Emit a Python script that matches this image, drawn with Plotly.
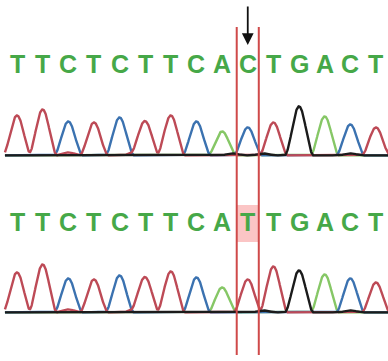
import numpy as np
import plotly.graph_objects as go

# Base calls for the reference and the variant read
seq_ref = "TTCTCTTCACTGACT"
seq_var = "TTCTCTTCATTGACT"

# Called-peak intensities (one per base)
peaks_ref = [40, 46, 34, 33, 38, 34, 40, 34, 24, 28, 33, 49, 39, 31, 28]
peaks_var = [40, 48, 34, 33, 37, 35, 41, 35, 25, 33, 46, 42, 38, 34, 30]

# Small secondary signals near the baseline: (dye, base position, intensity)
minor_ref = [("T", 2.0, 3), ("T", 4.6, 3), ("G", 8.4, 2), ("G", 9.6, 2), ("G", 13.0, 2)]
minor_var = [("T", 2.0, 3), ("T", 4.6, 3), ("G", 9.6, 2), ("G", 13.0, 2)]

variant_pos = 9  # index of the substituted base

dye_colors = {"A": "#86c766", "C": "#3b72b0", "G": "#1b1b1b", "T": "#bd4a56"}
letter_color = "#46a848"

W, H = 388, 361
HALF_WIDTH = 0.57  # half base width of a peak, in base units
scan = np.linspace(-0.47, 14.6, 1600)


def peak(center, height, w=HALF_WIDTH):
    d = np.abs(scan - center)
    return np.where(d < w, height * np.cos(np.pi * d / (2 * w)) ** 2, 0.0)


def dye_signal(seq, peaks, minor, dye):
    y = np.zeros_like(scan) + 0.6
    for i, (b, h) in enumerate(zip(seq, peaks)):
        if b == dye:
            y += peak(i, h)
    for d, pos, h in minor:
        if d == dye:
            y += peak(pos, h, HALF_WIDTH * 0.9)
    return y


fig = go.Figure()
for seq, peaks, minor, yax in [(seq_ref, peaks_ref, minor_ref, "y"),
                               (seq_var, peaks_var, minor_var, "y2")]:
    for dye in ["A", "C", "T", "G"]:
        fig.add_trace(go.Scatter(
            x=scan, y=dye_signal(seq, peaks, minor, dye), mode="lines",
            line=dict(color=dye_colors[dye], width=2.4),
            yaxis=yax, hoverinfo="skip", showlegend=False))


def px_to_paper(py):
    return 1 - py / H


annotations = []
for seq, ypx in [(seq_ref, 64), (seq_var, 222)]:
    for i, b in enumerate(seq):
        annotations.append(dict(
            x=i, y=px_to_paper(ypx), xref="x", yref="paper", text=b,
            showarrow=False, yanchor="middle", xanchor="center",
            font=dict(family="Liberation Sans", size=25, color=letter_color,
                      weight="bold")))

# Arrow pointing at the variant position
annotations.append(dict(
    x=variant_pos, y=px_to_paper(45), xref="x", yref="paper", text="",
    showarrow=True, ax=0, ay=-40, arrowhead=2, arrowsize=1.3,
    arrowwidth=1.8, arrowcolor="#111111"))

half = 0.43
shapes = [
    dict(type="rect", xref="x", yref="paper",
         x0=variant_pos - half, x1=variant_pos + half,
         y0=px_to_paper(242), y1=px_to_paper(205),
         fillcolor="rgba(245,110,110,0.40)", line=dict(width=0), layer="below"),
]
for xv in (variant_pos - half, variant_pos + half):
    shapes.append(dict(type="line", xref="x", yref="paper", x0=xv, x1=xv,
                       y0=px_to_paper(355), y1=px_to_paper(27),
                       line=dict(color="#cf4a4a", width=2), layer="above"))

x0 = (0 - 17) / 25.64
x1 = (W - 17) / 25.64

fig.update_layout(
    width=W, height=H, margin=dict(l=0, r=0, t=0, b=0),
    paper_bgcolor="white", plot_bgcolor="white",
    xaxis=dict(range=[x0, x1], visible=False, fixedrange=True),
    yaxis=dict(range=[-4, 52], domain=[px_to_paper(160), px_to_paper(104)],
               visible=False, fixedrange=True),
    yaxis2=dict(range=[-4, 52], domain=[px_to_paper(317), px_to_paper(261)],
                visible=False, fixedrange=True),
    annotations=annotations, shapes=shapes,
)

fig.write_html("out.html")
